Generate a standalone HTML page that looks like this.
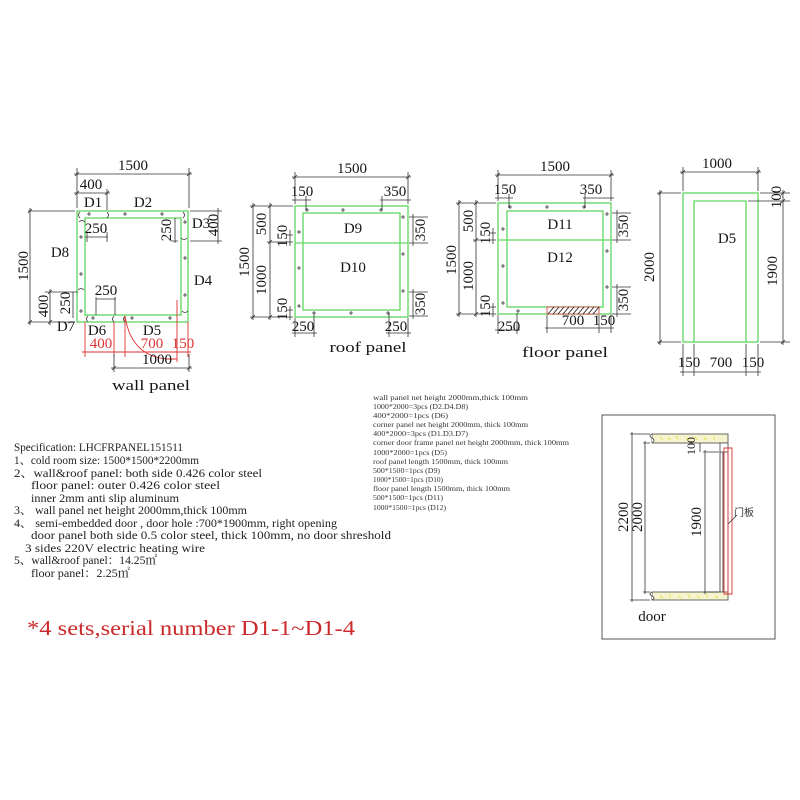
<!DOCTYPE html>
<html><head><meta charset="utf-8"><style>
html,body{margin:0;padding:0;background:#fff;}
svg{display:block;}
text{font-family:"Liberation Serif","Noto Serif CJK SC","Noto Sans CJK SC",serif;fill:#151515;}
.d{stroke:#333;stroke-width:0.8;fill:none;}
.g{stroke:#5fd65f;stroke-width:1.3;fill:none;}
.r{stroke:#d33;stroke-width:0.9;fill:none;}
.n{font-size:15px;}
.s{font-size:12px;}
.c{dominant-baseline:central;text-anchor:middle;}
.rt{fill:#d33;}
.sp{font-size:12px;fill:#222;}
.sm{font-size:7.5px;fill:#333;}
</style></head><body>
<svg width="800" height="800" viewBox="0 0 800 800" xmlns="http://www.w3.org/2000/svg">
<rect width="800" height="800" fill="#fff"/>

<!-- ================= WALL PANEL ================= -->
<g>
<rect class="g" x="77" y="211" width="111" height="111"/>
<rect class="g" x="85" y="218" width="96" height="97"/>
<path class="d" d="M74,174H192 M77,168V208 M189,168V208 M74,193H110 M107,189V210 M75,176l4,-4 M187,176l4,-4 M75,195l4,-4 M105,195l4,-4"/>
<text class="n c" x="133" y="166">1500</text>
<text class="n c" x="91" y="185">400</text>
<text class="n c" x="93" y="203">D1</text>
<text class="n c" x="143" y="203">D2</text>
<path class="d" d="M28,211H75 M28,322H75 M30,208V325 M28,213l4,-4 M28,324l4,-4 M45,292H78 M50,289V325 M48,294l4,-4 M48,324l4,-4 M73,292V318"/>
<text class="n c" transform="translate(24,266) rotate(-90)">1500</text>
<text class="n c" x="60" y="253">D8</text>
<text class="n c" transform="translate(44,306) rotate(-90)">400</text>
<text class="n c" transform="translate(66,303) rotate(-90)">250</text>
<text class="n c" x="66" y="327">D7</text>
<path class="d" d="M190,211H222 M190,241H222 M218,208V244"/>
<text class="n c" x="201" y="224">D3</text>
<text class="n c" transform="translate(214,225) rotate(-90)">400</text>
<text class="n c" x="203" y="281">D4</text>
<path class="d" d="M85,237H108 M87,232V242 M107,232V242 M175,218V243 M171,241H178 M96,299H116 M96,297V315 M115,297V315"/>
<text class="n c" x="96" y="229">250</text>
<text class="n c" transform="translate(167,230) rotate(-90)">250</text>
<text class="n c" x="106" y="291">250</text>
<path class="d" d="M107,212q3,3 0,6 M80,212q-3,3 0,6 M183,212q3,3 0,6 M79,222q3,-3 6,0 M78,290q3,-3 6,0 M181,238q3,3 6,0 M182,311q3,3 6,0 M88,316q-3,3 0,6 M114,316q-3,3 0,6 M125,316q-3,3 0,6"/>
<g class="d">
<path d="M87,214h4 M89,212v4 M123,214h4 M125,212v4 M160,214h4 M162,212v4 M79,237h4 M81,235v4 M79,274h4 M81,272v4 M79,311h4 M81,309v4 M183,222h4 M185,220v4 M183,258h4 M185,256v4 M183,295h4 M185,293v4 M91,318h4 M93,316v4 M130,318h4 M132,316v4 M168,318h4 M170,316v4"/>
</g>
<text class="n c" x="97" y="331">D6</text>
<text class="n c" x="152" y="331">D5</text>
<path class="r" d="M85,322V357 M114,322V357 M125,316V357 M177,300V362 M188,322V357 M82,352H191 M125,316Q131,356 167,359H177"/>
<text class="n c rt" x="101" y="344">400</text>
<text class="n c rt" x="152" y="344">700</text>
<text class="n c rt" x="183" y="344">150</text>
<path class="d" d="M111,368H192 M114,354V372 M189,354V372 M112,370l4,-4 M187,370l4,-4"/>
<text class="n c" x="157" y="360">1000</text>
<text class="c" x="151" y="386" font-size="15" textLength="78" lengthAdjust="spacingAndGlyphs">wall panel</text>
</g>

<!-- ================= ROOF PANEL ================= -->
<g>
<rect class="g" x="295" y="206" width="113" height="111"/>
<rect class="g" x="303" y="213" width="97" height="97"/>
<path class="g" d="M295,243H408"/>
<path class="d" d="M292,177H411 M295,172V204 M408,172V204 M292,200H311 M306,196V210 M380,200H411 M382,196V210 M293,179l4,-4 M406,179l4,-4"/>
<text class="n c" x="352" y="169">1500</text>
<text class="n c" x="302" y="192">150</text>
<text class="n c" x="395" y="192">350</text>
<text class="n c" x="353" y="229">D9</text>
<text class="n c" x="353" y="268">D10</text>
<path class="d" d="M250,206H293 M250,317H293 M267,242H293 M253,203V320 M270,203V320 M286,235H293 M286,310H293 M290,230V246 M290,306V320 M251,208l4,-4 M251,319l4,-4 M268,208l4,-4 M268,244l4,-4 M268,319l4,-4"/>
<text class="n c" transform="translate(245,262) rotate(-90)">1500</text>
<text class="n c" transform="translate(262,224) rotate(-90)">500</text>
<text class="n c" transform="translate(262,280) rotate(-90)">1000</text>
<text class="n c" transform="translate(283,236) rotate(-90)">150</text>
<text class="n c" transform="translate(283,309) rotate(-90)">150</text>
<path class="d" d="M409,217H428 M409,243H428 M409,292H428 M409,316H428 M413,214V246 M413,289V319"/>
<text class="n c" transform="translate(421,230) rotate(-90)">350</text>
<text class="n c" transform="translate(421,304) rotate(-90)">350</text>
<path class="d" d="M292,333H317 M386,333H411 M295,318V337 M314,313V337 M389,313V337 M408,318V337"/>
<text class="n c" x="303" y="327">250</text>
<text class="n c" x="396" y="327">250</text>
<text class="c" x="368" y="348" font-size="15" textLength="77" lengthAdjust="spacingAndGlyphs">roof panel</text>
<path class="d" d="M305,210h4 M307,208v4 M341,210h4 M343,208v4 M379,210h4 M381,208v4 M297,232h4 M299,230v4 M297,268h4 M299,266v4 M297,306h4 M299,304v4 M401,217h4 M403,215v4 M401,254h4 M403,252v4 M401,291h4 M403,289v4 M312,313h4 M314,311v4 M349,313h4 M351,311v4 M386,313h4 M388,311v4"/>
</g>

<!-- ================= FLOOR PANEL ================= -->
<g>
<rect class="g" x="498" y="203" width="113" height="111"/>
<rect class="g" x="507" y="211" width="96" height="96"/>
<path class="g" d="M498,240H611"/>
<path class="d" d="M495,175H614 M498,170V201 M611,170V201 M495,198H513 M509,194V208 M583,198H614 M585,194V208 M496,177l4,-4 M609,177l4,-4"/>
<text class="n c" x="555" y="167">1500</text>
<text class="n c" x="505" y="190">150</text>
<text class="n c" x="591" y="190">350</text>
<text class="n c" x="560" y="225">D11</text>
<text class="n c" x="560" y="258">D12</text>
<rect x="547" y="307" width="52" height="7" fill="#fff" stroke="#c33" stroke-width="0.8"/>
<path stroke="#222" stroke-width="0.9" d="M548,314l6,-7 M553,314l6,-7 M558,314l6,-7 M563,314l6,-7 M568,314l6,-7 M573,314l6,-7 M578,314l6,-7 M583,314l6,-7 M588,314l6,-7 M593,314l6,-7"/>
<path class="d" d="M456,203H496 M456,314H496 M473,240H496 M459,200V317 M476,200V317 M489,233H496 M489,307H496 M493,228V244 M493,303V317 M457,205l4,-4 M457,316l4,-4 M474,205l4,-4 M474,242l4,-4 M474,316l4,-4"/>
<text class="n c" transform="translate(452,260) rotate(-90)">1500</text>
<text class="n c" transform="translate(469,221) rotate(-90)">500</text>
<text class="n c" transform="translate(469,276) rotate(-90)">1000</text>
<text class="n c" transform="translate(486,233) rotate(-90)">150</text>
<text class="n c" transform="translate(486,306) rotate(-90)">150</text>
<path class="d" d="M612,213H631 M612,240H631 M612,287H631 M612,314H631 M617,210V243 M617,284V317"/>
<text class="n c" transform="translate(624,226) rotate(-90)">350</text>
<text class="n c" transform="translate(624,300) rotate(-90)">350</text>
<path class="d" d="M495,330H520 M498,315V334 M517,313V334 M545,328H614 M547,315V333 M599,315V333 M611,315V333"/>
<text class="n c" x="509" y="327">250</text>
<text class="n c" x="573" y="321">700</text>
<text class="n c" x="604" y="321">150</text>
<text class="c" x="565" y="353" font-size="15" textLength="86" lengthAdjust="spacingAndGlyphs">floor panel</text>
<path class="d" d="M508,207h4 M510,205v4 M545,207h4 M547,205v4 M582,207h4 M584,205v4 M501,229h4 M503,227v4 M501,266h4 M503,264v4 M501,303h4 M503,301v4 M605,214h4 M607,212v4 M605,251h4 M607,249v4 M605,287h4 M607,285v4 M516,311h4 M518,309v4"/>
</g>

<!-- ================= D5 DOOR PANEL ================= -->
<g>
<rect class="g" x="683" y="193" width="75" height="149"/>
<path class="g" d="M694,342V201H746V342"/>
<path class="d" d="M680,172H761 M683,167V191 M758,167V191 M681,174l4,-4 M756,174l4,-4"/>
<text class="n c" x="717" y="164">1000</text>
<path class="d" d="M657,193H681 M657,342H681 M660,190V345 M658,195l4,-4 M658,344l4,-4"/>
<text class="n c" transform="translate(650,267) rotate(-90)">2000</text>
<path class="d" d="M760,193H790 M748,201H790 M760,342H790 M783,190V345 M781,195l4,-4 M781,203l4,-4 M781,344l4,-4"/>
<text class="n c" transform="translate(777,197) rotate(-90)">100</text>
<text class="n c" transform="translate(773,271) rotate(-90)">1900</text>
<path class="d" d="M683,344V376 M694,344V376 M746,344V376 M758,344V376 M680,372H761"/>
<text class="n c" x="689" y="363">150</text>
<text class="n c" x="721" y="363">700</text>
<text class="n c" x="753" y="363">150</text>
<text class="n c" x="727" y="239">D5</text>
</g>

<!-- ================= SPECIFICATION TEXT ================= -->
<g class="sp">
<text x="14" y="451" class="sp" textLength="169" lengthAdjust="spacingAndGlyphs">Specification:  LHCFRPANEL151511</text>
<text x="14" y="464" class="sp" textLength="185" lengthAdjust="spacingAndGlyphs">1、cold room size: 1500*1500*2200mm</text>
<text x="14" y="477" class="sp" textLength="248" lengthAdjust="spacingAndGlyphs">2、wall&amp;roof panel: both side 0.426 color steel</text>
<text x="31" y="489" class="sp" textLength="189" lengthAdjust="spacingAndGlyphs">floor panel: outer 0.426 color steel</text>
<text x="31" y="502" class="sp" textLength="148" lengthAdjust="spacingAndGlyphs">inner 2mm anti slip aluminum</text>
<text x="14" y="514" class="sp" textLength="233" lengthAdjust="spacingAndGlyphs">3、 wall panel net height 2000mm,thick 100mm</text>
<text x="14" y="527" class="sp" textLength="323" lengthAdjust="spacingAndGlyphs">4、 semi-embedded door , door hole :700*1900mm, right opening</text>
<text x="31" y="539" class="sp" textLength="360" lengthAdjust="spacingAndGlyphs">door panel both side 0.5 color steel, thick 100mm, no door shreshold</text>
<text x="25" y="552" class="sp" textLength="180" lengthAdjust="spacingAndGlyphs">3 sides 220V electric heating wire</text>
<text x="14" y="564" class="sp" textLength="143" lengthAdjust="spacingAndGlyphs">5、wall&amp;roof panel：14.25㎡</text>
<text x="31" y="577" class="sp" textLength="99" lengthAdjust="spacingAndGlyphs">floor panel：2.25㎡</text>
</g>
<text x="27" y="635" font-size="21" fill="#cc2a2a" style="fill:#cc2a2a" textLength="328" lengthAdjust="spacingAndGlyphs">*4 sets,serial number D1-1~D1-4</text>

<!-- ================= SMALL LIST ================= -->
<g>
<text class="sm" x="373" y="400" textLength="155" lengthAdjust="spacingAndGlyphs">wall panel net height 2000mm,thick 100mm</text>
<text class="sm" x="373" y="409" textLength="95" lengthAdjust="spacingAndGlyphs">1000*2000=3pcs (D2.D4.D8)</text>
<text class="sm" x="373" y="418" textLength="75" lengthAdjust="spacingAndGlyphs">400*2000=1pcs (D6)</text>
<text class="sm" x="373" y="427" textLength="155" lengthAdjust="spacingAndGlyphs">corner panel net height 2000mm, thick 100mm</text>
<text class="sm" x="373" y="436" textLength="95" lengthAdjust="spacingAndGlyphs">400*2000=3pcs (D1.D3.D7)</text>
<text class="sm" x="373" y="445" textLength="196" lengthAdjust="spacingAndGlyphs">corner door frame panel net height 2000mm, thick 100mm</text>
<text class="sm" x="373" y="455" textLength="74" lengthAdjust="spacingAndGlyphs">1000*2000=1pcs (D5)</text>
<text class="sm" x="373" y="464" textLength="135" lengthAdjust="spacingAndGlyphs">roof panel length 1500mm, thick 100mm</text>
<text class="sm" x="373" y="473" textLength="67" lengthAdjust="spacingAndGlyphs">500*1500=1pcs (D9)</text>
<text class="sm" x="373" y="482" textLength="70" lengthAdjust="spacingAndGlyphs">1000*1500=1pcs (D10)</text>
<text class="sm" x="373" y="491" textLength="137" lengthAdjust="spacingAndGlyphs">floor panel length 1500mm, thick 100mm</text>
<text class="sm" x="373" y="500" textLength="70" lengthAdjust="spacingAndGlyphs">500*1500=1pcs (D11)</text>
<text class="sm" x="373" y="510" textLength="73" lengthAdjust="spacingAndGlyphs">1000*1500=1pcs (D12)</text>
</g>

<!-- ================= DOOR DETAIL ================= -->
<g>
<rect x="602" y="415" width="173" height="224" fill="none" stroke="#555" stroke-width="1"/>
<rect x="652" y="434" width="76" height="9" fill="#f6f3cf" stroke="#444" stroke-width="0.8"/>
<rect x="652" y="592" width="76" height="8" fill="#f6f3cf" stroke="#444" stroke-width="0.8"/>
<path d="M652,434q-4,2 0,4q4,2 0,5 M652,592q-4,2 0,4q4,2 0,4" stroke="#444" stroke-width="0.8" fill="#fff"/>
<g stroke="#e6dc3a" stroke-width="0.8">
<path d="M660,437l3,3 M668,438l3,2 M676,436l2,3 M686,438l3,2 M695,437l2,3 M704,438l3,2 M713,437l2,3 M660,596l3,2 M669,594l2,3 M678,596l3,2 M688,595l2,3 M697,596l3,2 M706,594l2,3 M715,596l3,2"/>
</g>
<rect x="720" y="443" width="8" height="9" fill="#fff" stroke="#444" stroke-width="0.8"/>
<path class="d" d="M720,452V592 M723,452V592 M728,452V592"/>
<path class="r" d="M724,448H732V594H724Z M728,448V594"/>
<path class="d" d="M630,434H650 M630,600H650 M632,432V602 M643,443H650 M643,592H650 M645,441V594 M703,452H719 M703,592H719 M705,450V594 M700,443V452"/>
<text class="n c" transform="translate(624,517) rotate(-90)" font-size="15">2200</text>
<text class="n c" transform="translate(638,517) rotate(-90)" font-size="15">2000</text>
<text class="n c" transform="translate(697,522) rotate(-90)" font-size="15">1900</text>
<text class="s c" transform="translate(691,446) rotate(-90)">100</text>
<path class="d" d="M728,524L737,515"/>
<text x="734" y="516" font-size="10" style="font-family:'Noto Sans CJK SC','WenQuanYi Zen Hei',sans-serif;fill:#333">门板</text>
<text class="c" x="652" y="617" font-size="15">door</text>
</g>
</svg>
</body></html>
